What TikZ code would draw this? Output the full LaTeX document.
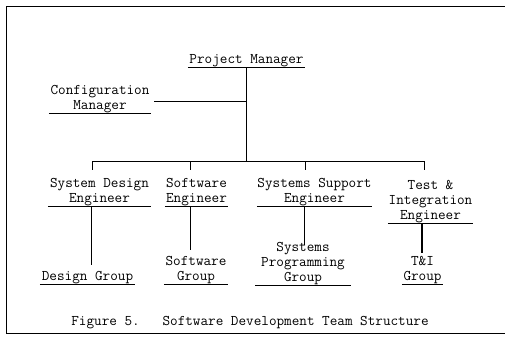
\documentclass[tikz,border=0pt]{standalone}
\frenchspacing

\tikzset{
  unit/.style={font=\ttfamily\fontsize{14.76}{14.8}\selectfont, align=center, inner sep=0pt, anchor=south},
  link/.style={line width=0.9pt},
  uline/.style={line width=0.8pt},
}

\begin{document}
\begin{tikzpicture}[x=1pt,y=-1pt]
            \useasboundingbox (0,0) rectangle (505,338);
            \draw[link] (505,6.5) -- (6,6.5) -- (6,333) -- (505,333);

            \node[unit, minimum width=117pt] (pm)  at (246.5,67)  {Project Manager};
            \node[unit, minimum width=102pt] (cm)  at (100,113)   {Configuration\\Manager};
            \node[unit, minimum width=103pt] (sde) at (99.5,206)  {System Design\\Engineer};
            \node[unit, minimum width=63pt]  (swe) at (196.5,206) {Software\\Engineer};
            \node[unit, minimum width=115pt] (sse) at (314.5,206) {Systems Support\\Engineer};
            \node[unit, minimum width=85pt]  (tie) at (430.5,223) {Test \&\\Integration\\Engineer};
            \node[unit, minimum width=95pt]  (dg)  at (87.5,284)  {Design Group};
            \node[unit, minimum width=64pt]  (swg) at (196,284)   {Software\\Group};
            \node[unit, minimum width=95pt]  (spg) at (303,285)   {Systems\\Programming\\Group};
            \node[unit, minimum width=41pt]  (tig) at (422.5,284) {T\&I\\Group};
            \node[unit, anchor=base] (cap) at (250,325) {Figure 5.\ \ \ Software Development Team Structure};

            \foreach \n in {pm,cm,sde,swe,sse,tie,dg,swg,spg,tig}
                \draw[uline] (\n.south west) -- (\n.south east);

            \coordinate (bus) at (246.5,161);
            \coordinate (d1) at (92,170);
            \coordinate (d2) at (190.5,170);
            \coordinate (d3) at (305,170);
            \coordinate (d4) at (424,170);
            \coordinate (e1) at (91.5,265);
            \coordinate (e2) at (190.5,250);
            \coordinate (e3) at (304,245);
            \coordinate (e4) at (422,253);

            \draw[link] (pm.south) -- (bus);
            \draw[link] ([xshift=3pt,yshift=-2pt]cm.east) -- ([yshift=-2pt]cm.east -| pm.south);
            \draw[link] (d1 |- bus) -- (d4 |- bus);
            \foreach \d in {d1,d2,d3,d4}
                \draw[link] (\d |- bus) -- (\d);

            \draw[link] (sde.south -| e1) -- (e1);
            \draw[link] (swe.south -| e2) -- (e2);
            \draw[link] (sse.south -| e3) -- (e3);
            \draw[link, line width=1.5pt] (tie.south -| e4) -- (e4);
\end{tikzpicture}
\end{document}
